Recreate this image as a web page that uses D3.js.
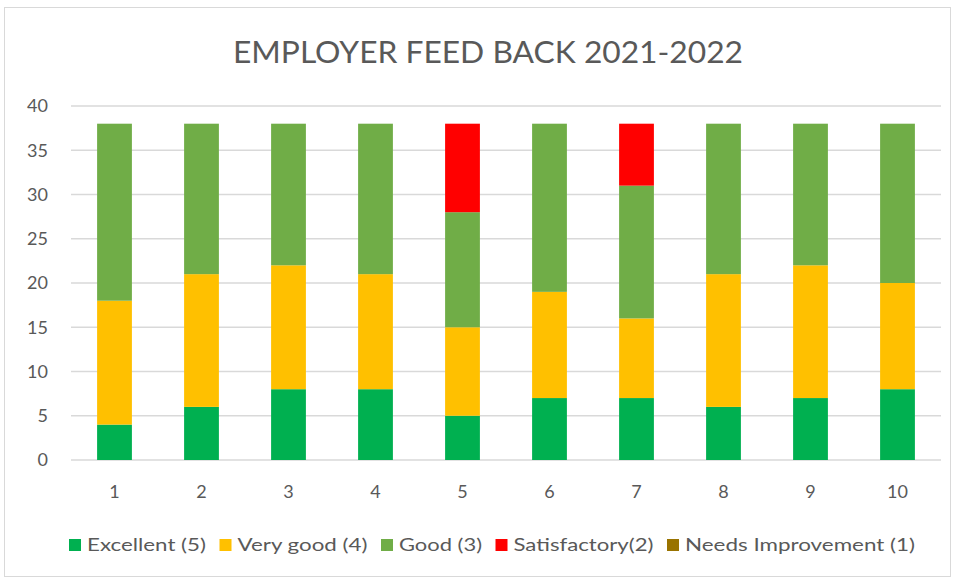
<!DOCTYPE html>
<html>
<head>
    <meta charset="utf-8">
    <title>Employer Feed Back 2021-2022</title>
    <script src="https://d3js.org/d3.v7.min.js"></script>
    <style>
        body { margin: 0; background: #fff; }
        text { font-family: Lato, "Open Sans", sans-serif; fill: #595959; }
    </style>
</head>
<body>
    <div id="chart"></div>

    <script>
        // Data
        const categories = ["1", "2", "3", "4", "5", "6", "7", "8", "9", "10"];
        const seriesNames = ["Excellent (5)", "Very good (4)", "Good (3)", "Satisfactory(2)", "Needs Improvement (1)"];
        const excellent = [4, 6, 8, 8, 5, 7, 7, 6, 7, 8];
        const veryGood = [14, 15, 14, 13, 10, 12, 9, 15, 15, 12];
        const good = [20, 17, 16, 17, 13, 19, 15, 17, 16, 18];
        const satisfactory = [0, 0, 0, 0, 10, 0, 7, 0, 0, 0];
        const needsImprovement = [0, 0, 0, 0, 0, 0, 0, 0, 0, 0];
        const yTicks = [0, 5, 10, 15, 20, 25, 30, 35, 40];
        const colors = ["#00B050", "#FFC000", "#70AD47", "#FF0000", "#997300"];

        const W = 955, H = 581;
        const svg = d3.select("#chart").append("svg")
            .attr("width", W)
            .attr("height", H);

        // chart border
        svg.append("rect")
            .attr("x", 4.5).attr("y", 7.5)
            .attr("width", W - 9).attr("height", H - 12)
            .attr("fill", "none")
            .attr("stroke", "#d9d9d9");

        // build a table for d3.stack
        const rows = categories.map((c, i) => ({
            cat: c,
            [seriesNames[0]]: excellent[i],
            [seriesNames[1]]: veryGood[i],
            [seriesNames[2]]: good[i],
            [seriesNames[3]]: satisfactory[i],
            [seriesNames[4]]: needsImprovement[i]
        }));
        const stacked = d3.stack().keys(seriesNames)(rows);

        const x = d3.scaleBand()
            .domain(categories)
            .range([71, 941])
            .paddingInner(0.6)
            .paddingOuter(0.3);

        const y = d3.scaleLinear()
            .domain([0, 40])
            .range([460, 106]);

        const color = d3.scaleOrdinal().domain(seriesNames).range(colors);

        // gridlines
        svg.append("g")
            .selectAll("line")
            .data(yTicks)
            .join("line")
            .attr("x1", 71).attr("x2", 941)
            .attr("y1", d => y(d)).attr("y2", d => y(d))
            .attr("stroke", "#d9d9d9")
            .attr("stroke-width", 1.3);

        // y tick labels
        svg.append("g")
            .selectAll("text")
            .data(yTicks)
            .join("text")
            .attr("x", 48)
            .attr("y", d => y(d))
            .attr("dy", "0.35em")
            .attr("text-anchor", "end")
            .style("font-size", "18px")
            .text(d => d);

        // bars
        svg.append("g")
            .selectAll("g")
            .data(stacked)
            .join("g")
            .attr("fill", d => color(d.key))
            .selectAll("rect")
            .data(d => d.filter(p => p[1] - p[0] > 0))
            .join("rect")
            .attr("x", d => x(d.data.cat))
            .attr("width", x.bandwidth())
            .attr("y", d => y(d[1]))
            .attr("height", d => y(d[0]) - y(d[1]));

        // x labels
        svg.append("g")
            .selectAll("text")
            .data(categories)
            .join("text")
            .attr("x", d => x(d) + x.bandwidth() / 2)
            .attr("y", 492)
            .attr("dy", "0.35em")
            .attr("text-anchor", "middle")
            .style("font-size", "18px")
            .text(d => d);

        // title
        svg.append("text")
            .attr("x", 488)
            .attr("y", 63)
            .attr("text-anchor", "middle")
            .attr("textLength", 510)
            .attr("lengthAdjust", "spacingAndGlyphs")
            .style("font-size", "31px")
            .style("font-weight", 400)
            .text("EMPLOYER FEED BACK 2021-2022");

        // legend
        const legend = svg.append("g").attr("transform", "translate(0,545)");
        const legendWidths = [119, 130, 83, 140, 230];
        let lx = 69;
        seriesNames.forEach((name, i) => {
            legend.append("rect")
                .attr("x", lx).attr("y", -6)
                .attr("width", 12).attr("height", 12)
                .attr("fill", colors[i]);
            legend.append("text")
                .attr("x", lx + 18)
                .attr("y", 0)
                .attr("dy", "0.35em")
                .attr("textLength", legendWidths[i])
                .attr("lengthAdjust", "spacingAndGlyphs")
                .style("font-size", "18px")
                .text(name);
            lx += 18 + legendWidths[i] + 13.5;
        });
    </script>
</body>
</html>
